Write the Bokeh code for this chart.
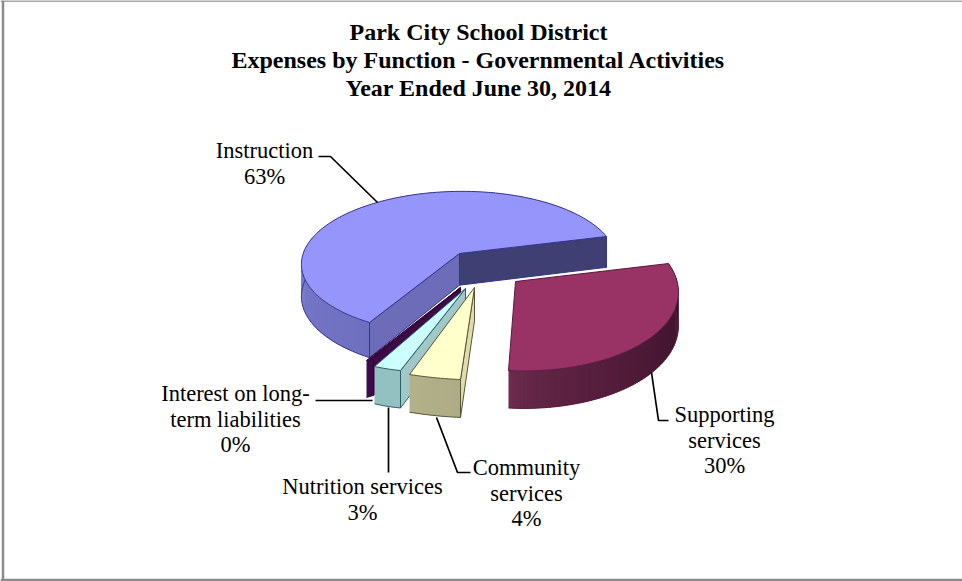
import numpy as np
from bokeh.plotting import figure
from bokeh.models import Range1d
from bokeh.core.properties import value
from bokeh.embed import file_html
from bokeh.resources import INLINE

# Shares of governmental-activities expenses, percent, counter-clockwise from the back spoke
categories = ["Instruction", "Interest on long-\nterm liabilities", "Nutrition services", "Community\nservices", "Supporting\nservices"]
shares = [63.0, 0.4, 3.0, 4.0, 30.0]
title_lines = ["Park City School District", "Expenses by Function - Governmental Activities", "Year Ended June 30, 2014"]

W, H = 962, 581
SERIF = value("Liberation Serif")


def homography(src, dst):
    rows, rhs = [], []
    for (u, v), (x, y) in zip(src, dst):
        rows.append([u, v, 1, 0, 0, 0, -u * x, -v * x])
        rows.append([0, 0, 0, u, v, 1, -u * y, -v * y])
        rhs += [x, y]
    return np.append(np.linalg.solve(np.array(rows, float), np.array(rhs, float)), 1).reshape(3, 3)


def affine(src, dst):
    s = np.column_stack([np.array(src, float), np.ones(3)])
    m = np.linalg.solve(s, np.array(dst, float))
    return np.vstack([m.T, [0, 0, 1]])


def project(M, u, v):
    q = M @ np.vstack([u, v, np.ones_like(u)])
    return q[0] / q[2], q[1] / q[2]


def depth(y):
    # Wall height grows toward the viewer
    return 31 + (np.asarray(y) - 240) * 0.05


def mix(a, b, t):
    ca = np.array([int(a[i:i + 2], 16) for i in (1, 3, 5)], float)
    cb = np.array([int(b[i:i + 2], 16) for i in (1, 3, 5)], float)
    c = ca + (cb - ca) * t
    return "#%02x%02x%02x" % tuple(int(round(v)) for v in c)


# Camera for each exploded slice: apex and spoke tips on the page, plus an arc point (fraction, x, y)
CAMERA = {
    "Instruction": dict(apex=(459, 253), tip0=(606, 236), tip1=(369, 322), arc=(135 / 226.8, 335, 219)),
    "Interest on long-\nterm liabilities": dict(apex=(460, 287), tip0=(366, 360), tip1=(373, 358)),
    "Nutrition services": dict(apex=(465, 288), tip0=(374, 366), tip1=(400, 370)),
    "Community\nservices": dict(apex=(474, 287), tip0=(409, 374), tip1=(460, 379)),
    "Supporting\nservices": dict(apex=(515, 281), tip0=(508, 370), tip1=(668, 263), arc=(0.5, 649, 338)),
}

# Face colours; only Instruction shows its starting spoke wall
STYLE = {
    "Instruction": dict(top="#9595fb", rim=("#9090f0", "#7070c0"), bend=1.0, start="#3f3f73", end="#6c6cb8", edge="#34348a"),
    "Interest on long-\nterm liabilities": dict(top="#3e0a48", rim=("#3e0a48", "#3e0a48"), bend=1.0, start=None, end="#3e0a48", edge="#2a0630"),
    "Nutrition services": dict(top="#ccffff", rim=("#93c0c0", "#93c0c0"), bend=1.0, start=None, end="#a0c8c8", edge="#2e5f60"),
    "Community\nservices": dict(top="#ffffcc", rim=("#b3b189", "#aeac84"), bend=1.0, start=None, end="#dedcaa", edge="#55553a"),
    "Supporting\nservices": dict(top="#993366", rim=("#6e2c4e", "#3a0f28"), bend=0.6, start=None, end=None, edge="#5a1a3c"),
}

p = figure(width=W, height=H, x_range=Range1d(0, W), y_range=Range1d(H, 0), output_backend="svg",
           toolbar_location=None, min_border=0, outline_line_color=None, background_fill_color="white")
p.axis.visible = False
p.grid.visible = False

# Frame around the chart area
p.line([2.5, 2.5], [0, 581], line_color="#8c8c8c", line_width=2.5)
p.line([0, 962], [0.6, 0.6], line_color="#8c8c8c", line_width=1.5)
p.line([0, 962], [579.5, 579.5], line_color="#8c8c8c", line_width=2.5)

fractions = np.array(shares) / sum(shares)
edges = np.concatenate([[0], np.cumsum(fractions)]) * 2 * np.pi

for i, name in enumerate(categories):
    st, cam = STYLE[name], CAMERA[name]
    a0, a1 = edges[i], edges[i + 1]
    src = [(0, 0), (np.cos(a0), np.sin(a0)), (np.cos(a1), np.sin(a1))]
    dst = [cam["apex"], cam["tip0"], cam["tip1"]]
    if "arc" in cam:
        f, x, y = cam["arc"]
        am = a0 + f * (a1 - a0)
        M = homography(src + [(np.cos(am), np.sin(am))], dst + [(x, y)])
    else:
        M = affine(src, dst)
    th = np.linspace(a0, a1, max(12, int(np.degrees(a1 - a0))))
    ax, ay = project(M, np.cos(th), np.sin(th))
    cx, cy = cam["apex"]

    # Outer wall as overlapping narrow quads so its tone can drift along the arc
    n = len(th) - 1
    for k in range(n):
        j = min(k + 2, n)
        col = mix(st["rim"][0], st["rim"][1], (k / max(n - 1, 1)) ** st["bend"])
        p.patch([ax[k], ax[j], ax[j], ax[k]], [ay[k], ay[j], ay[j] + depth(ay[j]), ay[k] + depth(ay[k])],
                fill_color=col, line_color=None)
    p.line(ax, ay + depth(ay), line_color=st["edge"], line_width=1)

    # Straight walls along the spokes that face the viewer
    for end_x, end_y, col in ((ax[0], ay[0], st["start"]), (ax[-1], ay[-1], st["end"])):
        if col is None:
            continue
        p.patch([cx, end_x, end_x, cx], [cy, end_y, end_y + depth(end_y), cy + depth(cy)],
                fill_color=col, line_color=st["edge"], line_width=1)

    # Top face
    p.patch(np.r_[cx, ax], np.r_[cy, ay], fill_color=st["top"], line_color=st["edge"], line_width=1)

# Title
for line, y in zip(title_lines, (31, 59, 87)):
    p.text([478], [y], text=[line], text_font=SERIF, text_font_style="bold", text_font_size="24px",
           text_align="center", text_baseline="middle", text_color="black")

# Callouts: label centre, first line height and leader path for each slice
CALLOUTS = {
    "Instruction": ((264, 150), [318, 330, 377], [156, 156, 202]),
    "Interest on long-\nterm liabilities": ((235, 393), [315, 372], [400, 400]),
    "Nutrition services": ((362, 486), [388, 388], [407, 472]),
    "Community\nservices": ((526, 467), [436, 457, 470], [417, 472, 472]),
    "Supporting\nservices": ((724, 414), [651, 658, 668], [372, 420, 420]),
}
for name, share in zip(categories, shares):
    (lx, ly), path_x, path_y = CALLOUTS[name]
    lines = name.split("\n") + [f"{round(share)}%"]
    for k, text in enumerate(lines):
        p.text([lx], [ly + k * 25.7], text=[text], text_font=SERIF, text_font_size="22.5px",
               text_align="center", text_baseline="middle", text_color="black")
    p.line(path_x, path_y, line_color="black", line_width=1.7)

open("out.html", "w").write(file_html(p, INLINE))
